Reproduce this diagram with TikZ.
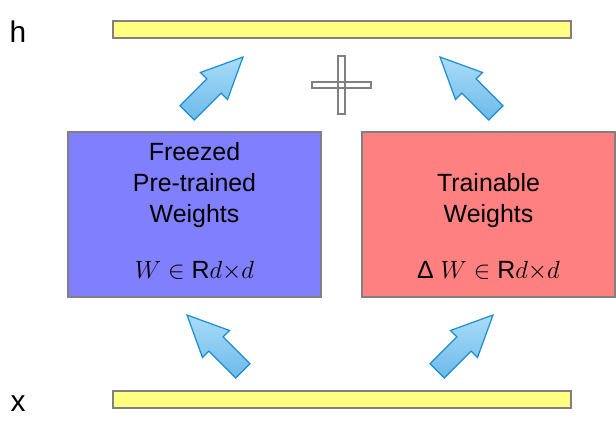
\documentclass[tikz,border=0pt]{standalone}
\usepackage{fontspec}
\setmainfont{Liberation Sans}
\usetikzlibrary{shapes.arrows,positioning}
\definecolor{edgegray}{HTML}{808080}
\definecolor{baryellow}{HTML}{FFFF80}
\definecolor{frzblue}{HTML}{8080FF}
\definecolor{trnred}{HTML}{FF8080}
\definecolor{arrowedge}{HTML}{1A8CD2}
\definecolor{arrowlight}{HTML}{AADCF8}
\definecolor{arrowdark}{HTML}{6CBAEA}
\begin{document}
\begin{tikzpicture}[x=1bp,y=1bp,
  bar/.style={draw=edgegray,line width=1.5bp,fill=baryellow,inner sep=0pt,
    minimum width=458bp,minimum height=17bp},
  wbox/.style={draw=edgegray,line width=1.5bp,inner sep=0pt,
    minimum width=253bp,minimum height=165bp},
  wtext/.style={align=center,inner sep=0pt,font=\fontsize{25}{31}\selectfont},
  vlab/.style={inner sep=0pt,anchor=base,font=\fontsize{30}{30}\selectfont},
  fatarrow/.style={single arrow,draw=arrowedge,line width=1.2bp,
    top color=arrowlight,bottom color=arrowdark,
    inner xsep=0pt,inner ysep=9.5bp,outer sep=0pt,minimum height=79bp,
    single arrow head extend=9bp,single arrow tip angle=50,anchor=tip},
  plusbar/.style={draw=edgegray,line width=1.5bp,inner sep=0pt}]
\useasboundingbox (0,0) rectangle (616,428);
\node[bar] (hbar) at (342,398.5) {};
\node[bar] (xbar) at (342,28.5) {};
\node[vlab] (hlab) at (18,386) {h};
\node[vlab] (xlab) at (18,17) {x};
\node[wbox,fill=frzblue] (frz) at (194.5,213.5) {};
\node[wbox,fill=trnred] (trn) at (488.5,213.5) {};
\node[wtext,below=11bp of frz.north] (frzname) {Freezed\\Pre-trained\\Weights};
\node[wtext,below=42bp of trn.north] (trnname) {Trainable\\Weights};
\node[wtext,anchor=base] (frzdim) at ([yshift=19bp]frz.south) {$W\in$ R$d{\times}d$};
\node[wtext,anchor=base] (trndim) at ([yshift=19bp]trn.south) {Δ $W\in$ R$d{\times}d$};
\node[fatarrow,rotate=135] (inL) at (187,113) {};
\node[fatarrow,rotate=45] (inR) at (493,113) {};
\node[fatarrow,rotate=45] (outL) at (243,371) {};
\node[fatarrow,rotate=135] (outR) at (440,371) {};
\node[plusbar,minimum width=7bp,minimum height=58bp] (plusV) at (341.5,343) {};
\node[plusbar,minimum width=59bp,minimum height=6bp] (plusH) at (341.5,343) {};
\end{tikzpicture}
\end{document}
